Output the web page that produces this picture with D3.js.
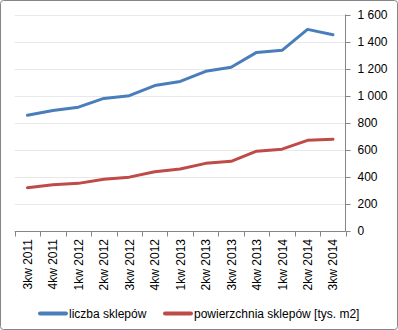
<!DOCTYPE html>
<html>
<head>
<meta charset="utf-8">
<script src="https://cdn.jsdelivr.net/npm/d3@7"></script>
<style>
  html, body { margin: 0; padding: 0; background: #fff; }
  svg { display: block; }
  text { font-family: "Liberation Sans", Arial, sans-serif; fill: #000; }
</style>
</head>
<body>
<script>
// Quarterly categories
const quarters = ["3kw 2011", "4kw 2011", "1kw 2012", "2kw 2012", "3kw 2012", "4kw 2012",
  "1kw 2013", "2kw 2013", "3kw 2013", "4kw 2013", "1kw 2014", "2kw 2014", "3kw 2014"];
// Number of shops
const liczbaSklepow = [855, 890, 915, 980, 1000, 1075, 1105, 1180, 1210, 1320, 1335, 1490, 1450];
// Shop floor area, thousands of m2
const powierzchnia = [320, 342, 352, 382, 398, 438, 458, 500, 515, 590, 605, 670, 678];
const yTicks = [0, 200, 400, 600, 800, 1000, 1200, 1400, 1600];

const seriesNames = ["liczba sklepów", "powierzchnia sklepów [tys. m2]"];
const seriesColors = ["#4A7EBB", "#BE4B48"];

const W = 398, H = 330;
const plot = { left: 14.7, right: 345.7, top: 14.5, bottom: 231 };

const svg = d3.select("body").append("svg").attr("width", W).attr("height", H);

// outer frame
svg.append("rect")
  .attr("x", 0.5).attr("y", 0.5).attr("width", W - 1).attr("height", H - 1)
  .attr("rx", 3).attr("fill", "#fff").attr("stroke", "#868686");

const x = d3.scaleBand().domain(quarters).range([plot.left, plot.right]);
const y = d3.scaleLinear().domain([0, 1600]).range([plot.bottom, plot.top]);

// horizontal gridlines
svg.append("g").selectAll("line").data(yTicks.filter(d => d > 0)).join("line")
  .attr("x1", plot.left).attr("x2", plot.right)
  .attr("y1", d => Math.round(y(d)) + 0.5).attr("y2", d => Math.round(y(d)) + 0.5)
  .attr("stroke", "#e8e8e8").attr("stroke-width", 1);

// right value axis
const yAxis = d3.axisRight(y).tickValues(yTicks).tickSize(5).tickPadding(7)
  .tickFormat(d => d3.format(",")(d).replace(/,/g, " "));
const gy = svg.append("g").attr("transform", `translate(${Math.round(plot.right) - 0.5},0)`).call(yAxis);
gy.select(".domain").attr("stroke", "#868686").attr("d", `M0,${plot.top}V${plot.bottom}`);
gy.selectAll(".tick line").attr("stroke", "#868686");
gy.selectAll(".tick").attr("transform", d => `translate(0,${Math.round(y(d)) + 0.5})`);
gy.selectAll(".tick text").style("font-size", "12px").style("font-family", "Liberation Sans, Arial, sans-serif")
  .attr("fill", "#000");

// bottom category axis: ticks at band boundaries
const gx = svg.append("g");
gx.append("line")
  .attr("x1", plot.left).attr("x2", plot.right)
  .attr("y1", Math.round(plot.bottom) + 0.5).attr("y2", Math.round(plot.bottom) + 0.5)
  .attr("stroke", "#868686");
const bounds = quarters.map(q => x(q)).concat([x(quarters[quarters.length - 1]) + x.bandwidth()]);
gx.selectAll("line.tk").data(bounds).join("line").attr("class", "tk")
  .attr("x1", d => Math.round(d) + 0.5).attr("x2", d => Math.round(d) + 0.5)
  .attr("y1", Math.round(plot.bottom)).attr("y2", Math.round(plot.bottom) + 5.5)
  .attr("stroke", "#868686");
gx.selectAll("text").data(quarters).join("text")
  .attr("transform", d => `translate(${x(d) + x.bandwidth() / 2 + 4.5},239) rotate(-90)`)
  .attr("text-anchor", "end")
  .style("font-size", "12px")
  .text(d => d);

// series lines
const line = d3.line().x((d, i) => x(quarters[i]) + x.bandwidth() / 2).y(d => y(d));
[liczbaSklepow, powierzchnia].forEach((vals, i) => {
  svg.append("path").datum(vals)
    .attr("d", line)
    .attr("fill", "none")
    .attr("stroke", seriesColors[i])
    .attr("stroke-width", 3)
    .attr("stroke-linejoin", "round")
    .attr("stroke-linecap", "round");
});

// legend
const legendItems = [{ x: 40, textX: 69 }, { x: 165, textX: 194 }];
legendItems.forEach((it, i) => {
  svg.append("line")
    .attr("x1", it.x).attr("x2", it.x + 26).attr("y1", 313.5).attr("y2", 313.5)
    .attr("stroke", seriesColors[i]).attr("stroke-width", 4).attr("stroke-linecap", "round");
  svg.append("text").attr("x", it.textX).attr("y", 318)
    .style("font-size", "12px").text(seriesNames[i]);
});
</script>
</body>
</html>
